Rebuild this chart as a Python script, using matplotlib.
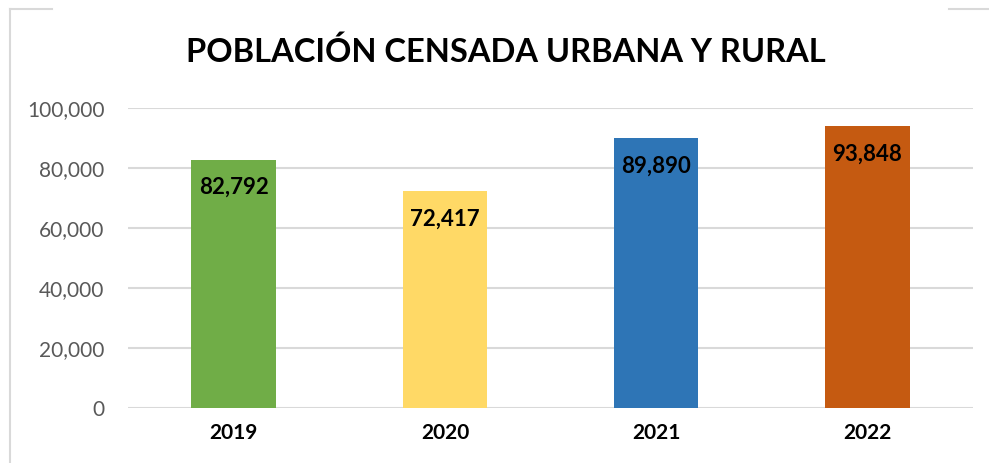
import matplotlib.pyplot as plt
from matplotlib.lines import Line2D
from matplotlib.ticker import FuncFormatter

plt.rcParams['font.family'] = ['Lato', 'DejaVu Sans']

# datos
years = ['2019', '2020', '2021', '2022']
population = [82792, 72417, 89890, 93848]
colors = ['#70AD47', '#FFD966', '#2E75B6', '#C55A11']

fig = plt.figure(figsize=(9.89, 4.63), dpi=100)
ax = fig.add_axes([128 / 989, 1 - 408 / 463, 845 / 989, 300 / 463])

x = range(len(years))
bars = ax.bar(x, population, width=0.4, color=colors, zorder=3)

ax.set_xlim(-0.5, len(years) - 0.5)
ax.set_ylim(0, 100000)
ax.set_yticks(range(0, 100001, 20000))
ax.yaxis.set_major_formatter(FuncFormatter(lambda v, p: f'{int(v):,}'))
ax.set_xticks(list(x))
ax.set_xticklabels(years, fontsize=15, fontweight='bold', color='black')
ax.tick_params(axis='y', labelsize=15, labelcolor='#595959', length=0, pad=17)
ax.tick_params(axis='x', length=0, pad=11)
ax.grid(axis='y', color='#D9D9D9', linewidth=1.5, zorder=0)
for s in ax.spines.values():
    s.set_visible(False)

# etiquetas de datos
for rect, val in zip(bars, population):
    ax.annotate(f'{val:,}', (rect.get_x() + rect.get_width() / 2, val),
                xytext=(0, -28), textcoords='offset pixels',
                ha='center', va='center', fontsize=16, fontweight='bold', color='black', zorder=4)

fig.text(506 / 989, 1 - 52 / 463, 'POBLACIÓN CENSADA URBANA Y RURAL',
         ha='center', va='center', fontsize=23.5, fontweight='bold')

# marco parcial del gráfico
grey = '#D9D9D9'
fig.add_artist(Line2D([10 / 989, 10 / 989], [0, 1 - 9 / 463], color=grey, lw=1.5))
fig.add_artist(Line2D([10 / 989, 52 / 989], [1 - 9 / 463, 1 - 9 / 463], color=grey, lw=1.5))
fig.add_artist(Line2D([949 / 989, 1], [1 - 9 / 463, 1 - 9 / 463], color=grey, lw=1.5))

fig.savefig('out.png', dpi=100)
